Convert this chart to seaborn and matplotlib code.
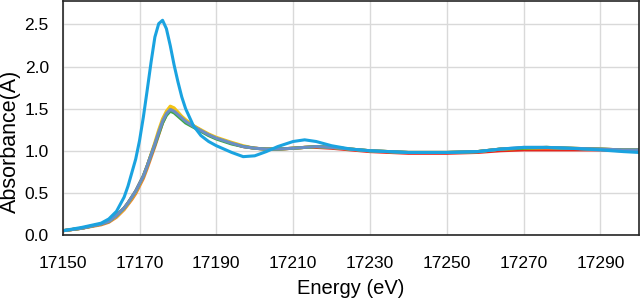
import pandas as pd
import matplotlib
matplotlib.use("Agg")
import matplotlib.pyplot as plt
import seaborn as sns

# energy grid (eV)
energy = [17150, 17155, 17160, 17162, 17164, 17166, 17167, 17168, 17169, 17170,
          17171, 17172, 17173, 17174, 17175, 17176, 17177, 17178, 17179, 17180,
          17181, 17182, 17184, 17186, 17188, 17190, 17194, 17197, 17200, 17203,
          17206, 17210, 17213, 17216, 17220, 17225, 17230, 17240, 17250, 17258,
          17264, 17270, 17276, 17282, 17290, 17296, 17300]

s_red = [0.05, 0.08, 0.13, 0.16, 0.23, 0.32, 0.38, 0.45, 0.52, 0.61,
         0.70, 0.82, 0.95, 1.08, 1.22, 1.35, 1.44, 1.49, 1.47, 1.43,
         1.39, 1.35, 1.29, 1.24, 1.19, 1.15, 1.09, 1.05, 1.03, 1.02,
         1.02, 1.03, 1.04, 1.04, 1.03, 1.01, 0.99, 0.97, 0.97, 0.98,
         1.00, 1.01, 1.01, 1.01, 1.01, 1.00, 1.00]
s_orange = [0.05, 0.08, 0.12, 0.15, 0.21, 0.30, 0.36, 0.42, 0.49, 0.58,
            0.67, 0.79, 0.92, 1.05, 1.19, 1.33, 1.43, 1.50, 1.49, 1.45,
            1.40, 1.36, 1.30, 1.24, 1.19, 1.15, 1.09, 1.05, 1.03, 1.02,
            1.02, 1.03, 1.04, 1.05, 1.04, 1.02, 1.00, 0.98, 0.98, 0.99,
            1.02, 1.03, 1.03, 1.03, 1.02, 1.01, 1.01]
s_yellow = [0.05, 0.08, 0.13, 0.16, 0.22, 0.31, 0.37, 0.44, 0.51, 0.60,
            0.70, 0.82, 0.96, 1.10, 1.25, 1.38, 1.47, 1.53, 1.51, 1.46,
            1.41, 1.37, 1.30, 1.25, 1.20, 1.16, 1.10, 1.06, 1.03, 1.02,
            1.02, 1.03, 1.04, 1.05, 1.04, 1.02, 1.00, 0.98, 0.98, 0.99,
            1.02, 1.03, 1.04, 1.03, 1.02, 1.01, 1.01]
s_green = [0.05, 0.08, 0.13, 0.16, 0.23, 0.32, 0.38, 0.45, 0.52, 0.61,
           0.70, 0.82, 0.95, 1.07, 1.20, 1.33, 1.42, 1.47, 1.45, 1.41,
           1.37, 1.33, 1.28, 1.23, 1.18, 1.14, 1.08, 1.05, 1.03, 1.02,
           1.02, 1.03, 1.04, 1.05, 1.04, 1.02, 1.00, 0.98, 0.98, 0.99,
           1.02, 1.03, 1.04, 1.03, 1.02, 1.01, 1.01]
s_steel = [0.05, 0.08, 0.13, 0.16, 0.23, 0.32, 0.38, 0.45, 0.52, 0.61,
           0.70, 0.82, 0.95, 1.08, 1.22, 1.35, 1.44, 1.49, 1.47, 1.43,
           1.39, 1.35, 1.29, 1.24, 1.19, 1.15, 1.09, 1.05, 1.03, 1.02,
           1.02, 1.03, 1.04, 1.05, 1.04, 1.02, 1.00, 0.98, 0.98, 0.99,
           1.02, 1.04, 1.04, 1.03, 1.02, 1.01, 1.01]
s_cyan = [0.05, 0.09, 0.14, 0.19, 0.28, 0.45, 0.58, 0.74, 0.90, 1.12,
          1.40, 1.72, 2.05, 2.35, 2.51, 2.55, 2.45, 2.25, 2.02, 1.82,
          1.64, 1.50, 1.30, 1.18, 1.11, 1.06, 0.98, 0.93, 0.94, 0.99,
          1.05, 1.11, 1.13, 1.11, 1.06, 1.02, 1.00, 0.98, 0.98, 0.99,
          1.02, 1.04, 1.04, 1.03, 1.01, 0.99, 0.98]

series = {"red": s_red, "orange": s_orange, "yellow": s_yellow,
          "green": s_green, "steel": s_steel, "cyan": s_cyan}
colors = {"red": "#E8261C", "orange": "#ED7D31", "yellow": "#F2C314",
          "green": "#3EA846", "steel": "#6A8EC4", "cyan": "#1AA3E0"}

rows = []
for name, vals in series.items():
    for e, v in zip(energy, vals):
        rows.append({"Energy": e, "Absorbance": v, "sample": name})
df = pd.DataFrame(rows)

plt.rcParams["font.family"] = ["Liberation Sans", "DejaVu Sans"]

fig = plt.figure(figsize=(6.4, 3.02), dpi=100)
ax = fig.add_axes([0.098, 0.222, 0.9, 0.775])

sns.lineplot(data=df, x="Energy", y="Absorbance", hue="sample",
             palette=colors, linewidth=2.2, legend=False, ax=ax, sort=False)

ax.set_xlim(17150, 17300)
ax.set_ylim(0, 2.78)
ax.set_xticks(range(17150, 17300, 20))
ax.set_yticks([0.0, 0.5, 1.0, 1.5, 2.0, 2.5])
ax.set_yticklabels(["0.0", "0.5", "1.0", "1.5", "2.0", "2.5"])
ax.grid(True, color="#D9D9D9", linewidth=1)
ax.set_axisbelow(True)
ax.tick_params(length=0, labelsize=12.5, colors="#000000")
ax.tick_params(axis="x", pad=15)
ax.tick_params(axis="y", pad=10)
for sp in ax.spines.values():
    sp.set_color("#262626")
    sp.set_linewidth(1.2)

ax.set_xlabel("Energy (eV)", fontsize=14.5, labelpad=6)
ax.set_ylabel("Absorbance(A)", fontsize=15.5, labelpad=0)
ax.yaxis.set_label_coords(-0.072, 0.4)

fig.savefig("out.png", dpi=100)
